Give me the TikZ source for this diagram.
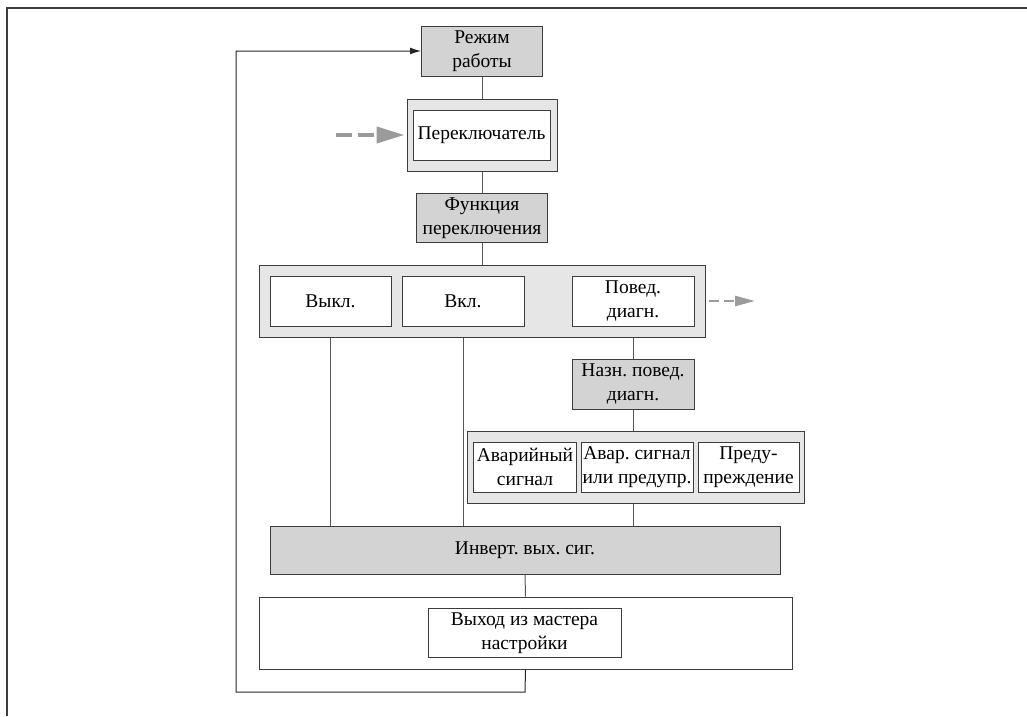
\documentclass[tikz,border=0pt]{standalone}
\usepackage{fontspec}
\setmainfont{Liberation Serif}
\usetikzlibrary{arrows.meta,positioning}
\definecolor{BoxGray}{RGB}{211,211,211}
\definecolor{PanelGray}{RGB}{230,230,230}
\definecolor{EdgeGray}{RGB}{60,60,60}
\definecolor{LinkGray}{RGB}{85,85,85}
\definecolor{HintGray}{RGB}{155,155,155}
\frenchspacing

\tikzset{
  box/.style={draw=EdgeGray,line width=1pt,align=center,inner sep=1pt,
    font=\fontsize{19.5}{24.5}\selectfont},
  graybox/.style={box,fill=BoxGray},
  whitebox/.style={box,fill=white},
  panel/.style={draw=EdgeGray,line width=1pt,fill=PanelGray,inner sep=0pt},
  link/.style={draw=LinkGray,line width=1pt},
  hint/.style={HintGray,line width=4pt,dash pattern=on 16pt off 6pt,
    -{Triangle[length=28pt,width=16pt]}},
  smallhint/.style={HintGray,line width=2.5pt,dash pattern=on 10pt off 5pt,
    -{Triangle[length=20pt,width=10pt]}}
}

\begin{document}
\begin{tikzpicture}[x=1pt,y=-1pt]
  \useasboundingbox (0,0) rectangle (1027,716);
  % page frame
  \draw[line width=2pt,EdgeGray] (6.5,716)--(6.5,7.5)--(1027,7.5);

  % main column
  \node[graybox,minimum width=121,minimum height=50] (mode) at (482,51)
    {Режим\\работы};
  \node[panel,minimum width=150,minimum height=72] (switchbox) at (482,135) {};
  \node[whitebox,minimum width=137,minimum height=50] (switch) at (481.5,135)
    {Переключатель};
  \node[graybox,minimum width=131,minimum height=49] (func) at (482,218)
    {Функция\\переключения};

  % switch function choices
  \node[panel,minimum width=446,minimum height=72] (choices) at (482,301) {};
  \node[whitebox,minimum width=121,minimum height=50] (off) at (330.5,301)
    {Выкл.};
  \node[whitebox,minimum width=122,minimum height=50] (on) at (463,301)
    {Вкл.};
  \node[whitebox,minimum width=122,minimum height=50] (diag) at (633,301)
    {Повед.\\диагн.};

  % diagnostic behaviour
  \node[graybox,minimum width=122,minimum height=50] (assign) at (633,384)
    {Назн. повед.\\диагн.};
  \node[panel,minimum width=337,minimum height=72] (levels) at (635.5,467) {};
  \node[whitebox,minimum width=103,minimum height=50] (alarm) at (525,467)
    {Аварийный\\сигнал};
  \node[whitebox,minimum width=112,minimum height=50] (either) at (637,467)
    {Авар. сигнал\\или предупр.};
  \node[whitebox,minimum width=101,minimum height=50] (warn) at (748.5,467)
    {Преду-\\преждение};

  % output and exit
  \node[graybox,minimum width=510,minimum height=48] (invert) at (525,550)
    {Инверт. вых. сиг.};
  \node[whitebox,minimum width=533,minimum height=72] (exitbox) at (525.5,633) {};
  \node[whitebox,minimum width=193,minimum height=49] (exit) at (524.5,633)
    {Выход из мастера\\настройки};

  \coordinate (loopA) at (525,692);
  \coordinate (loopB) at (236,692);
  \coordinate (loopC) at (236,51);
  \coordinate (hintin) at (336,135);
  \coordinate (hintout) at (755,301);

  \draw[link] (mode.south)--(switchbox.north);
  \draw[link] (switchbox.south)--(func.north);
  \draw[link] (func.south)--(choices.north);
  \draw[link] (off.south |- choices.south)--(off.south |- invert.north);
  \draw[link] (on.south |- choices.south)--(on.south |- invert.north);
  \draw[link] (diag.south |- choices.south)--(assign.north);
  \draw[link] (assign.south)--(assign.south |- levels.north);
  \draw[link] (assign.south |- levels.south)--(assign.south |- invert.north);
  \draw[link] (invert.south)--(exitbox.north);
  \draw[link,draw=black!85,-{Latex[length=11pt,width=7pt]}] (exitbox.south)--(loopA)
    --(loopB)--(loopC)--(mode.west);

  \draw[hint] (hintin)--([xshift=-2pt]switchbox.west);
  \draw[smallhint] ([xshift=3pt]choices.east)--(hintout);
\end{tikzpicture}
\end{document}
